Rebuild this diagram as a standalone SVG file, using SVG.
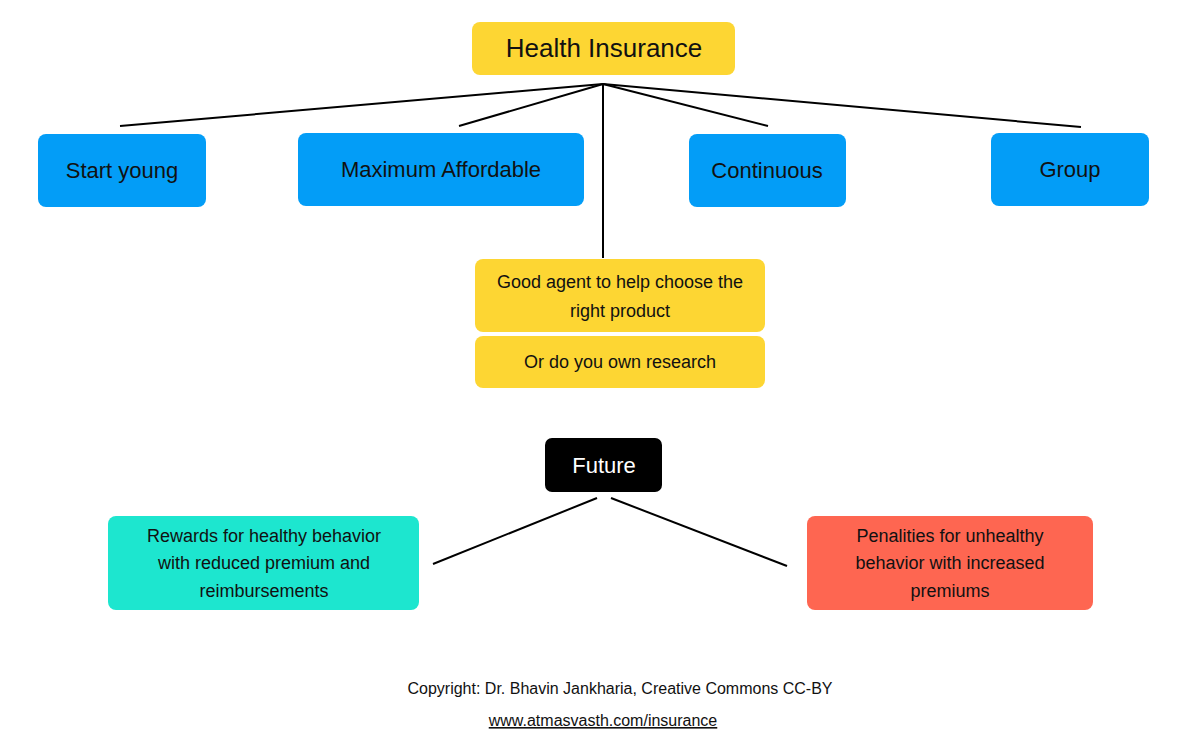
<svg xmlns="http://www.w3.org/2000/svg" width="1200" height="750" viewBox="0 0 1200 750">
<style>
text{font-family:"Liberation Sans","Open Sans",sans-serif;fill:#111;text-anchor:middle}
.y{fill:#FDD633}.b{fill:#039DF7}.k{fill:#000}.t{fill:#1DE6CF}.r{fill:#FE6651}
.big{font-size:26px}.mid{font-size:22px}.sm{font-size:18px}.xs{font-size:16px}
.w{fill:#fff}
.c line{stroke:#000;stroke-width:2;fill:none}
</style>
<rect width="1200" height="750" fill="#fff"/>
<g class="c" id="connectors">
<line x1="603" y1="84" x2="120" y2="126"/>
<line x1="603" y1="84" x2="459" y2="126"/>
<line x1="603" y1="84" x2="603" y2="258"/>
<line x1="603" y1="84" x2="768" y2="126"/>
<line x1="603" y1="84" x2="1081" y2="127"/>
<line x1="597" y1="498" x2="433" y2="564"/>
<line x1="611" y1="498" x2="787" y2="566"/>
</g>
<g id="health"><rect class="y" x="472" y="22" width="263" height="53" rx="8"/><text class="big" x="604" y="57">Health Insurance</text></g>
<g id="start"><rect class="b" x="38" y="134" width="168" height="73" rx="8"/><text class="mid" x="122" y="178">Start young</text></g>
<g id="max"><rect class="b" x="298" y="133" width="286" height="73" rx="8"/><text class="mid" x="441" y="177">Maximum Affordable</text></g>
<g id="cont"><rect class="b" x="689" y="134" width="157" height="73" rx="8"/><text class="mid" x="767" y="178">Continuous</text></g>
<g id="group"><rect class="b" x="991" y="133" width="158" height="73" rx="8"/><text class="mid" x="1070" y="177">Group</text></g>
<g id="agent"><rect class="y" x="475" y="259" width="290" height="73" rx="8"/><text class="sm" x="620" y="288">Good agent to help choose the</text><text class="sm" x="620" y="317">right product</text></g>
<g id="research"><rect class="y" x="475" y="336" width="290" height="52" rx="8"/><text class="sm" x="620" y="368">Or do you own research</text></g>
<g id="future"><rect class="k" x="545" y="438" width="117" height="54" rx="7"/><text class="mid w" x="604" y="473">Future</text></g>
<g id="rewards"><rect class="t" x="108" y="516" width="311" height="94" rx="8"/><text class="sm" x="264" y="542">Rewards for healthy behavior</text><text class="sm" x="264" y="569">with reduced premium and</text><text class="sm" x="264" y="597">reimbursements</text></g>
<g id="penalities"><rect class="r" x="807" y="516" width="286" height="94" rx="8"/><text class="sm" x="950" y="542">Penalities for unhealthy</text><text class="sm" x="950" y="569">behavior with increased</text><text class="sm" x="950" y="597">premiums</text></g>
<g id="footer"><text class="xs" x="620" y="694">Copyright: Dr. Bhavin Jankharia, Creative Commons CC-BY</text><text class="xs" x="603" y="726" text-decoration="underline">www.atmasvasth.com/insurance</text></g>
</svg>
